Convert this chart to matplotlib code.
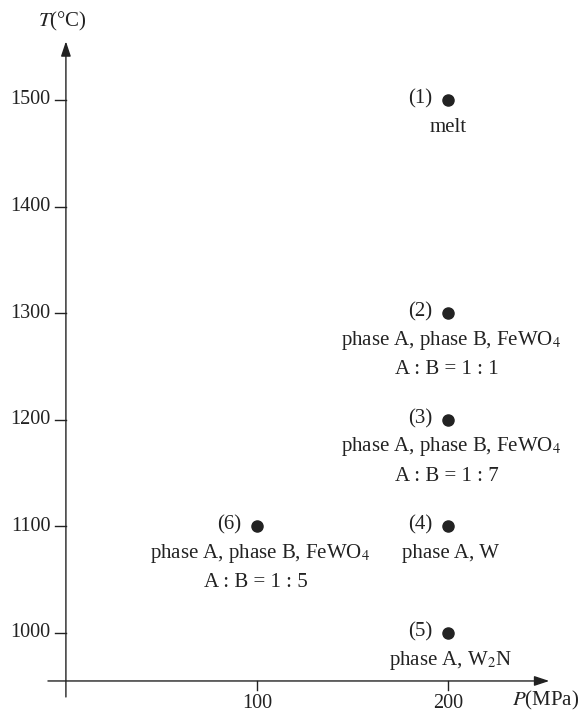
import matplotlib
matplotlib.use("Agg")
import matplotlib.pyplot as plt

# ---- data ----
pressure = [200, 200, 200, 200, 200, 100]          # MPa
temperature = [1500, 1300, 1200, 1100, 1000, 1100]  # degC
point_ids = ["(1)", "(2)", "(3)", "(4)", "(5)", "(6)"]
phases = [
    "melt",
    "phase A, phase B, FeWO$_4$",
    "phase A, phase B, FeWO$_4$",
    "phase A, W",
    "phase A, W$_2$N",
    "phase A, phase B, FeWO$_4$",
]
ratios = ["", "A : B = 1 : 1", "A : B = 1 : 7", "", "", "A : B = 1 : 5"]

x_ticks = [100, 200]
y_ticks = [1000, 1100, 1200, 1300, 1400, 1500]

plt.rcParams["font.family"] = ["Liberation Serif", "DejaVu Serif"]
plt.rcParams["mathtext.fontset"] = "stix"

INK = "#222222"
FS = 15

fig = plt.figure(figsize=(5.84, 7.17), dpi=100)
ax = fig.add_axes([0, 0, 1, 1])
ax.set_axis_off()
# calibrate so 1 data unit maps to the reference pixel scale
ax.set_xlim(-34.5, 271.2)
ax.set_ylim(921.2, 1593.8)

x_axis_T = 955
# axes with arrows
ax.annotate("", xy=(253, x_axis_T), xytext=(-9.4, x_axis_T),
            arrowprops=dict(arrowstyle="-|>,head_length=0.9,head_width=0.3",
                            color=INK, lw=1.0, shrinkA=0, shrinkB=0))
ax.annotate("", xy=(0, 1555), xytext=(0, 940),
            arrowprops=dict(arrowstyle="-|>,head_length=0.9,head_width=0.3",
                            color=INK, lw=1.0, shrinkA=0, shrinkB=0))

# ticks and tick labels
for t in y_ticks:
    ax.plot([-5.8, 0], [t, t], color=INK, lw=1.0)
    ax.text(-8.0, t, str(t), ha="right", va="center", fontsize=14.5, color=INK)
for p in x_ticks:
    ax.plot([p, p], [x_axis_T, x_axis_T - 8.5], color=INK, lw=1.0)
    ax.text(p, 933.5, str(p), ha="center", va="center", fontsize=14.5, color=INK)

ax.text(-2, 1574, "$T$(°C)", ha="center", va="center", fontsize=FS, color=INK)
ax.text(251, 937, "$P$(MPa)", ha="center", va="center", fontsize=FS, color=INK)

# points and annotations
ax.plot(pressure, temperature, "o", color=INK, ms=8, ls="none")
for p, t, pid, ph, r in zip(pressure, temperature, point_ids, phases, ratios):
    ax.annotate(pid, (p, t), xytext=(-11, 1), textcoords="offset points",
                ha="right", va="center", fontsize=FS, color=INK)
    ax.annotate(ph, (p, t), xytext=(0 if ph == "melt" else 2, -19.5),
                textcoords="offset points", ha="center", va="center",
                fontsize=FS, color=INK)
    if r:
        ax.annotate(r, (p, t), xytext=(-1, -40.5), textcoords="offset points",
                    ha="center", va="center", fontsize=FS, color=INK)

fig.savefig("out.png", dpi=100)
